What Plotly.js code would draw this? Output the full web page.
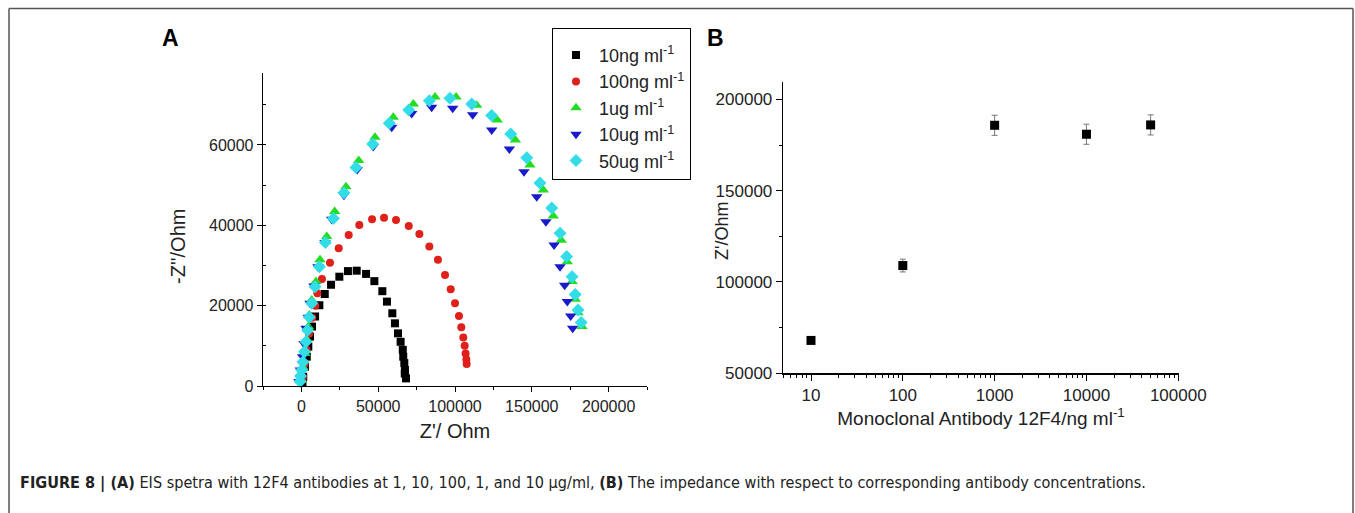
<!DOCTYPE html>
<html>
<head>
<meta charset="utf-8">
<script src="https://cdn.plot.ly/plotly-3.0.1.min.js"></script>
<style>html,body{margin:0;padding:0;background:#fff;}#chart{width:1355px;height:513px;}</style>
</head>
<body>
<div id="chart"></div>
<script>
// ---- Panel A: EIS (Nyquist) data, Z' and -Z'' in Ohm ----
const seriesNames = ["10ng ml<sup>-1</sup>", "100ng ml<sup>-1</sup>", "1ug ml<sup>-1</sup>", "10ug ml<sup>-1</sup>", "50ug ml<sup>-1</sup>"];

const re10ng = [700,1200,2300,3500,4500,5600,6900,8900,11700,15200,19300,24700,30300,36000,42100,47500,52700,55700,59200,60900,62900,64600,66000,66300,67000,67300,67400,68100];
const im10ng = [1000,2300,4800,7300,9800,12300,14800,17300,20100,22900,25200,27200,28600,28700,27900,26100,23600,21000,18100,15600,13100,11000,9000,7300,5700,3100,4000,1900];

const re100ng = [800,2000,3300,5000,7000,9000,10400,13400,18600,24300,30800,37700,46000,53800,61600,69900,76800,83300,88900,93500,97200,100000,102600,104100,105400,106300,106900,107400,107600];
const im100ng = [2000,5500,9000,13000,17000,20000,23100,26600,30700,34300,37600,40100,41500,41900,41300,39800,37800,34700,31400,27600,24100,20600,17400,14600,12100,10000,8100,6600,5500];

const re1ug = [-100,800,2300,3600,4500,5100,6700,9500,12100,16500,21700,29000,37300,47900,59800,72900,87000,100700,114100,127500,139300,148800,157500,164000,169200,173100,176200,178300,180100,182700];
const im1ug = [1500,4800,8100,11500,14800,17700,21400,26000,31400,37200,43400,49600,56100,61900,66900,70200,71900,71900,69900,66200,61200,55000,48800,42300,36300,30900,26000,21600,18200,14800];

const re10ug = [-1600,-700,800,1700,3000,4500,5600,8200,10800,15400,19700,27700,36400,46800,58800,71800,84800,98500,111500,123900,135400,144900,153200,159200,164500,168400,171400,173100,175300,176600];
const im10ug = [1100,4000,7300,10600,14400,17100,20600,24900,29700,35700,41500,47500,53900,59600,64400,67800,69400,69100,67500,63700,59000,53300,47100,40900,35100,29700,25100,21000,17400,14400];

const re50ug = [-900,-600,200,1000,2000,3000,4000,5100,6700,8900,11700,15600,20800,27700,35500,46400,57200,69900,83300,96700,110900,123900,136300,146700,155300,163000,168400,172700,176200,178300,180100,182200];
const im50ug = [1100,2500,4000,6000,8500,11000,13900,17100,20600,24700,29700,35700,41700,48100,54400,60200,65400,68700,71000,71600,70200,67300,62700,56800,50500,44300,38000,32200,27200,22800,18900,15800];

// ---- Panel B: impedance vs antibody concentration ----
const concentration = [10, 100, 1000, 10000, 50000];
const impedance = [68000, 109000, 185800, 180900, 186000];
const impedanceErr = [1500, 3500, 5500, 5500, 5500];

const logTicks = [10, 100, 1000, 10000, 100000];
const logTickText = ["10", "100", "1000", "10000", "100000"];

const FONT = "Liberation Sans, Arial, sans-serif";
const W = 1355, H = 513;
const px = v => v / W;
const py = v => 1 - v / H;

const markerA = [
  {symbol: "square", color: "#000000", size: 8},
  {symbol: "circle", color: "#e0201b", size: 8},
  {symbol: "triangle-up", color: "#22dd22", size: 10},
  {symbol: "triangle-down", color: "#1a1acc", size: 10},
  {symbol: "diamond", color: "#33dde8", size: 10}
];
const reA = [re10ng, re100ng, re1ug, re10ug, re50ug];
const imA = [im10ng, im100ng, im1ug, im10ug, im50ug];

const traces = seriesNames.map((name, i) => ({
  type: "scatter", mode: "markers", name: name,
  x: reA[i], y: imA[i], xaxis: "x", yaxis: "y",
  marker: {symbol: markerA[i].symbol, color: markerA[i].color, size: markerA[i].size, line: {width: 0}},
  cliponaxis: false
}));

traces.push({
  type: "scatter", mode: "markers", name: "Z'", showlegend: false,
  x: concentration, y: impedance, xaxis: "x2", yaxis: "y2",
  marker: {symbol: "square", color: "#000", size: 9},
  error_y: {type: "data", array: impedanceErr, visible: true, color: "#777", thickness: 1, width: 3},
  cliponaxis: false
});

const tickFont = {family: FONT, size: 16, color: "#222"};

const layout = {
  width: W, height: H,
  margin: {l: 0, r: 0, t: 0, b: 0},
  paper_bgcolor: "#fff", plot_bgcolor: "#fff",
  font: {family: FONT, color: "#222"},
  showlegend: true,
  legend: {
    x: px(552), y: py(28), xanchor: "left", yanchor: "top",
    bordercolor: "#000", borderwidth: 1, bgcolor: "#fff",
    font: {family: FONT, size: 18, color: "#222"},
    itemwidth: 36,
    title: {text: "&nbsp;", font: {family: FONT, size: 6}},
    tracegroupgap: 0
  },
  xaxis: {
    domain: [px(263), px(647)], anchor: "y",
    range: [-25000, 225000], dtick: 50000, tick0: 0, tickformat: "d",
    showgrid: false, zeroline: false, showline: true, linecolor: "#000", linewidth: 1.3,
    ticks: "outside", ticklen: 5, tickcolor: "#000",
    minor: {dtick: 25000, ticks: "outside", ticklen: 3, tickcolor: "#000"},
    tickfont: tickFont,
    title: {text: "Z'/ Ohm", font: {family: FONT, size: 20, color: "#222"}, standoff: 10}
  },
  yaxis: {
    domain: [py(386), py(73)], anchor: "x",
    range: [0, 77900], dtick: 20000, tick0: 0, tickformat: "d",
    showgrid: false, zeroline: false, showline: true, linecolor: "#000", linewidth: 1.3,
    ticks: "outside", ticklen: 5, tickcolor: "#000",
    minor: {dtick: 10000, ticks: "inside", ticklen: 3, tickcolor: "#000"},
    tickfont: tickFont
  },
  xaxis2: {
    domain: [px(783), px(1179)], anchor: "y2",
    type: "log", range: [0.695, 5.008],
    tickvals: logTicks, ticktext: logTickText,
    showgrid: false, zeroline: false, showline: true, linecolor: "#000", linewidth: 1.3,
    ticks: "outside", ticklen: 6, tickcolor: "#000",
    minor: {ticks: "outside", ticklen: 3, tickcolor: "#000", dtick: "D1"},
    tickfont: {family: FONT, size: 17, color: "#222"},
    title: {text: "Monoclonal Antibody 12F4/ng ml<sup>-1</sup>", font: {family: FONT, size: 19, color: "#222"}, standoff: 4}
  },
  yaxis2: {
    domain: [py(373.3), py(82)], anchor: "x2",
    range: [50000, 209500], dtick: 50000, tick0: 0, tickformat: "d",
    showgrid: false, zeroline: false, showline: true, linecolor: "#000", linewidth: 1.3,
    ticks: "outside", ticklen: 6, tickcolor: "#000",
    minor: {dtick: 25000, ticks: "outside", ticklen: 3, tickcolor: "#000"},
    tickfont: {family: FONT, size: 17, color: "#222"}
  },
  annotations: [
    {xref: "paper", yref: "paper", x: px(170), y: py(38), xanchor: "center", yanchor: "middle", showarrow: false,
     text: "<b>A</b>", font: {family: FONT, size: 23, color: "#000"}},
    {xref: "paper", yref: "paper", x: px(716), y: py(38), xanchor: "center", yanchor: "middle", showarrow: false,
     text: "<b>B</b>", font: {family: FONT, size: 23, color: "#000"}},
    // y-axis titles placed as in the reference
    {xref: "paper", yref: "paper", x: px(178), y: py(247), xanchor: "center", yanchor: "middle", showarrow: false,
     textangle: -90, text: "-Z''/Ohm", font: {family: FONT, size: 20, color: "#222"}},
    {xref: "paper", yref: "paper", x: px(722), y: py(231), xanchor: "center", yanchor: "middle", showarrow: false,
     textangle: -90, text: "Z'/Ohm", font: {family: FONT, size: 18, color: "#222"}},
    {xref: "paper", yref: "paper", x: px(18), y: py(483), xanchor: "left", yanchor: "middle", showarrow: false,
     text: "<b>FIGURE 8 | (A)</b> EIS spetra with 12F4 antibodies at 1, 10, 100, 1, and 10 µg/ml, <b>(B)</b> The impedance with respect to corresponding antibody concentrations.",
     font: {family: "Liberation Sans Narrow, DejaVu Sans Condensed, sans-serif", size: 16.1, color: "#222"}}
  ],
  shapes: [
    {type: "line", xref: "paper", yref: "paper", x0: px(9), x1: px(1353), y0: py(8.5), y1: py(8.5), line: {color: "#555", width: 1.5}},
    {type: "line", xref: "paper", yref: "paper", x0: px(9), x1: px(9), y0: py(8.5), y1: 0, line: {color: "#555", width: 1.5}},
    {type: "line", xref: "paper", yref: "paper", x0: px(1353), x1: px(1353), y0: py(8.5), y1: 0, line: {color: "#555", width: 1.5}}
  ]
};

Plotly.newPlot("chart", traces, layout, {displayModeBar: false, staticPlot: true});
</script>
</body>
</html>
